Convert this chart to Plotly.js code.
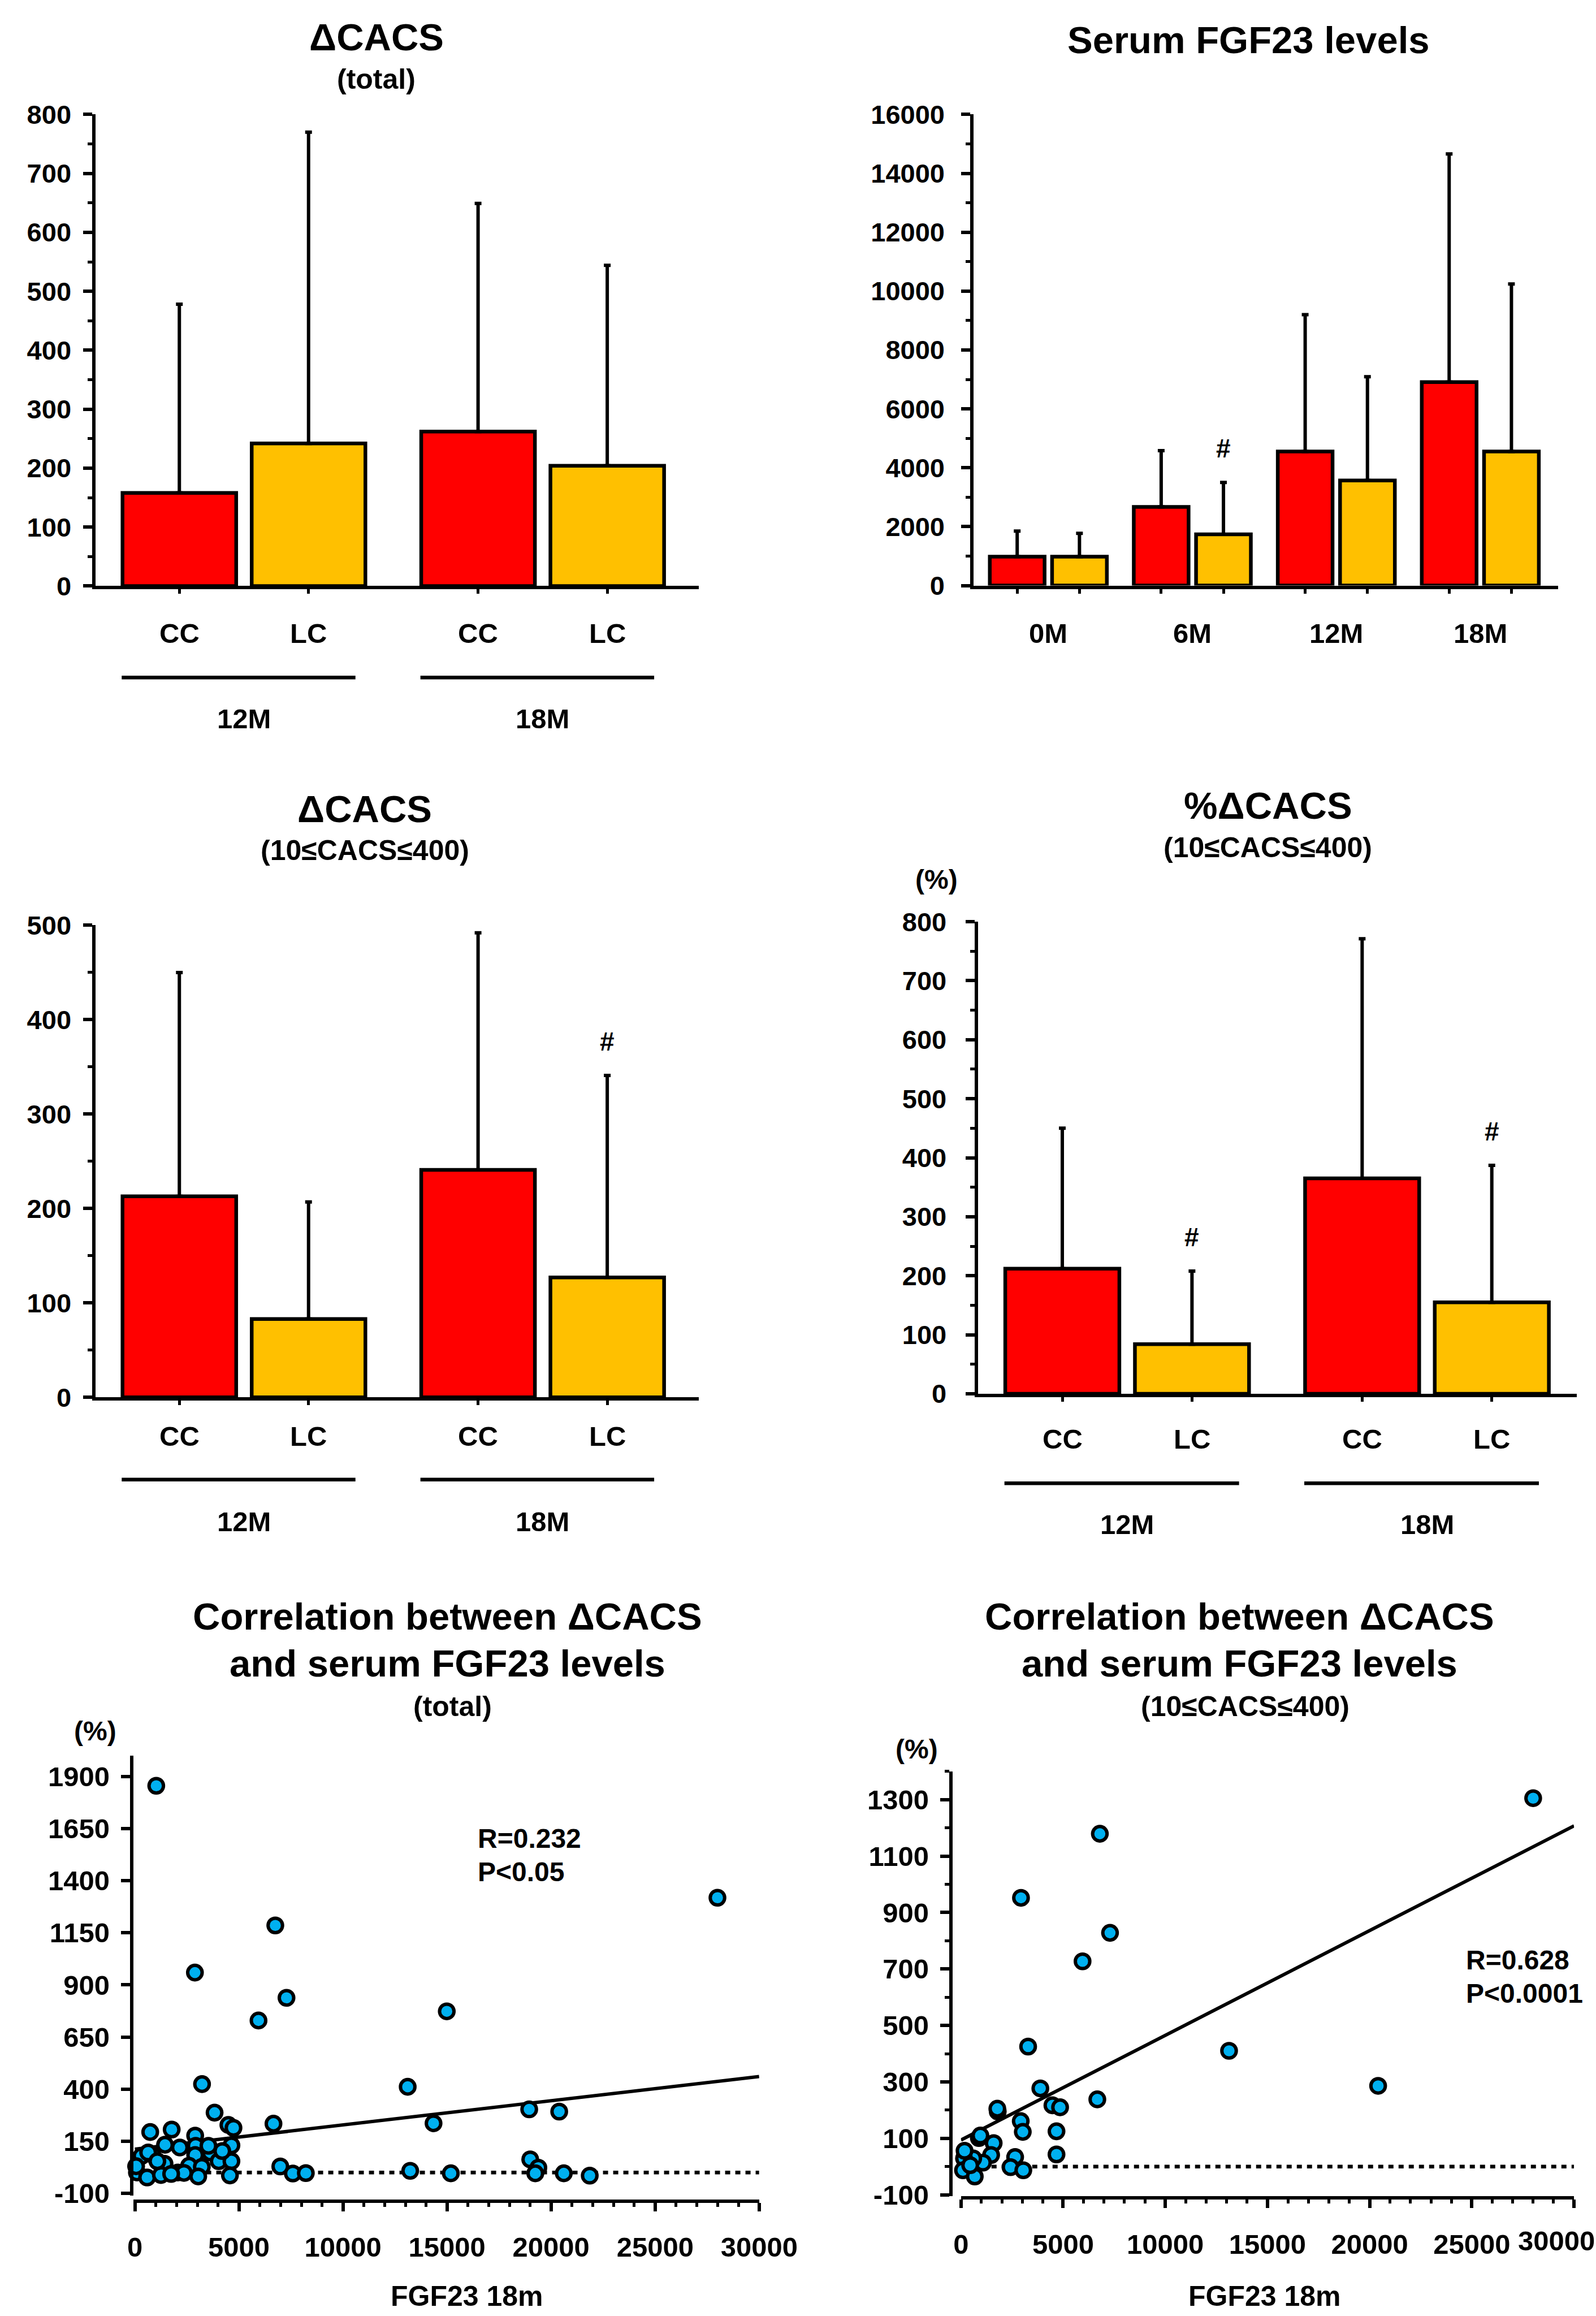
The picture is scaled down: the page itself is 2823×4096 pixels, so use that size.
<!DOCTYPE html>
<html><head><meta charset="utf-8">
<script src="https://cdn.plot.ly/plotly-3.0.1.min.js"></script>
<style>html,body{margin:0;padding:0;background:#fff}#chart{width:2823px;height:4096px}</style>
</head><body><div id="chart"></div>
<script>
// ---------------- DATA ----------------
const cacsPeriods = ['12M', '18M'];
const groupNames = ['CC', 'LC'];

// ΔCACS (total)
const totalCC = [158, 262];
const totalCCsd = [320, 387];
const totalLC = [242, 204];
const totalLCsd = [528, 340];
const totalLCsig = [false, false];

// Serum FGF23 levels
const fgfMonths = ['0M', '6M', '12M', '18M'];
const fgfCC = [980, 2670, 4550, 6910];
const fgfCCsd = [870, 1910, 4650, 7750];
const fgfLC = [980, 1740, 3570, 4550];
const fgfLCsd = [790, 1760, 3520, 5690];
const fgfLCsig = [false, true, false, false];

// ΔCACS (10≤CACS≤400)
const subCC = [213, 241];
const subCCsd = [237, 251];
const subLC = [83, 127];
const subLCsd = [124, 214];
const subLCsig = [false, true];

// %ΔCACS (10≤CACS≤400)
const pctCC = [212, 365];
const pctCCsd = [238, 406];
const pctLC = [84, 155];
const pctLCsd = [124, 232];
const pctLCsig = [true, true];

// Correlation (total): FGF23 18m vs %ΔCACS
const totalX = [1027, 27995, 6748, 2885, 7286, 5941, 14988, 3227, 13110, 6660, 14352, 18949, 20391, 18998, 19389, 19242, 20611, 21858, 13231, 15183, 6988, 7590, 8215,
  3830, 4493, 4738, 737, 1768, 2897, 2922, 1449, 2160, 4640, 3634, 835, 319, 2897, 4027, 4640, 1424, 2603, 3216, 98, 589, 1252, 2062, 2357, 3044, 4567, 60, 638, 1080, 1743, 3535, 4200];
const totalY = [1855, 1318, 1185, 959, 838, 729, 773, 424, 411, 234, 236, 303, 292, 63, 23, -4, -4, -15, 8, -4, 29, -5, -3,
  287, 228, 214, 194, 206, 177, 128, 133, 120, 130, 96, 86, 79, 84, 54, 54, 42, 32, 27, 0, -24, -12, 0, -2, -19, -14, 30, 96, 54, -7, 128, 103];
const totalFit = {intercept: 112, slope: 0.0116};
const totalStats = ['R=0.232', 'P<0.05'];

// Correlation (10≤CACS≤400)
const subX = [28000, 6796, 2937, 7294, 5950, 3286, 13119, 20413, 3884, 6672, 4475, 4850, 1800, 1780, 2925, 3025, 4675, 4675, 875, 950, 1600, 1475, 1075, 600, 150, 175, 100, 675, 2650, 2425, 3050, 450];
const subY = [1305, 1179, 952, 828, 727, 425, 410, 286, 277, 238, 217, 210, 195, 205, 161, 123, 125, 43, 101, 110, 83, 41, 14, 29, 29, 56, -13, -35, 34, -2, -13, 5];
const subFit = {intercept: 94, slope: 0.0371};
const subStats = ['R=0.628', 'P<0.0001'];

const fgfSpan = [0, 30000];

// ---------------- LAYOUT HELPERS ----------------
const W = 2823, H = 4096, RW = 3124, RH = 4533;
const px = v => v / RW;           // reference px -> paper x
const py = v => 1 - v / RH;       // reference px -> paper y
const FONT = '"Liberation Sans", Arial, Helvetica, sans-serif';
const RED = '#FF0000', GOLD = '#FFC000', BLUE = '#00B0F0', BLACK = '#000000';
const BARGAP = 0.135, GROUPGAP = 0.12;
const HALF = (1 - BARGAP) / 4;
const LW = 6;

const traces = [];
const annotations = [];
const shapes = [];
const layout = {
  width: W, height: H, margin: {l: 0, r: 0, t: 0, b: 0},
  paper_bgcolor: '#ffffff', plot_bgcolor: 'rgba(0,0,0,0)',
  showlegend: false, barmode: 'group', bargap: BARGAP, bargroupgap: GROUPGAP,
  font: {family: FONT, color: BLACK, weight: 'bold'},
  annotations: annotations, shapes: shapes
};

function f(size) { return {family: FONT, size: size, color: BLACK, weight: 'bold'}; }
function txt(text, x, y, size, extra) {
  annotations.push(Object.assign({text: text, x: px(x), y: py(y), xref: 'paper', yref: 'paper',
    showarrow: false, font: f(size), xanchor: 'center', yanchor: 'middle'}, extra || {}));
}
function tickList(start, stop, step) {
  const out = [];
  for (let v = start; v <= stop + 1e-9; v += step) out.push(v);
  return out;
}

function yAxis(c, anchor) {
  const t0 = c.tick0 !== undefined ? c.tick0 : 0;
  const vals = tickList(t0, c.yrange[1], c.dtick);
  const a = {
    domain: [py(c.ydom[0]), py(c.ydom[1])], range: c.yrange, anchor: anchor,
    tickmode: 'array', tickvals: vals, ticktext: vals.map(v => String(v)),
    ticks: 'outside', ticklen: 16, tickwidth: LW, tickcolor: BLACK,
    showline: true, linewidth: LW, linecolor: BLACK, showgrid: false, zeroline: false,
    tickfont: f(c.tickSize || 47), ticklabelstandoff: c.standoff || 8, ticklabeloverflow: 'allow', fixedrange: true
  };
  if (c.minor) a.minor = {tickmode: 'linear', dtick: c.minor, tick0: t0, ticks: 'outside', ticklen: 8, tickwidth: 5, tickcolor: BLACK, showgrid: false};
  return a;
}

function barPanel(c) {
  const s = c.n === 1 ? '' : String(c.n);
  const xa = 'x' + s, ya = 'y' + s;
  const idx = c.cats.map((_, i) => i);
  const zeros = idx.map(() => 0);
  const bar = (vals, sd, col) => ({
    type: 'bar', x: idx, y: vals, xaxis: xa, yaxis: ya,
    marker: {color: col, line: {color: BLACK, width: 6.5}},
    error_y: {type: 'data', array: sd, arrayminus: zeros, symmetric: false, color: BLACK, thickness: 6, width: 6},
    showlegend: false, hoverinfo: 'skip'
  });
  traces.push(bar(c.cc, c.ccsd, RED), bar(c.lc, c.lcsd, GOLD));
  const centers = [];
  idx.forEach(i => { centers.push(i - HALF, i + HALF); });
  layout['xaxis' + s] = {
    domain: [px(c.xdom[0]), px(c.xdom[1])], range: c.xrange, anchor: ya,
    tickmode: 'array', tickvals: centers, ticktext: centers.map(() => ''), showticklabels: false,
    ticks: 'outside', ticklen: 8, tickwidth: 5, tickcolor: BLACK,
    showline: true, linewidth: LW, linecolor: BLACK, showgrid: false, zeroline: false, fixedrange: true
  };
  layout['yaxis' + s] = yAxis(c, xa);
  // significance marks
  idx.forEach(i => {
    if (c.sig[i]) annotations.push({xref: xa, yref: ya, x: i + HALF, y: c.lc[i] + c.lcsd[i], yshift: 60,
      text: '#', showarrow: false, font: f(46), xanchor: 'center', yanchor: 'middle'});
  });
  if (c.subLabels) {
    idx.forEach(i => {
      groupNames.forEach((g, j) => {
        annotations.push({xref: xa, yref: 'paper', x: i + (j === 0 ? -HALF : HALF), y: py(c.subY), text: g,
          showarrow: false, font: f(49), xanchor: 'center', yanchor: 'middle'});
      });
      shapes.push({type: 'line', xref: xa, yref: 'paper', x0: i - HALF - 0.193, x1: i + HALF + 0.157,
        y0: py(c.lineY), y1: py(c.lineY), line: {color: BLACK, width: 6.5}});
      annotations.push({xref: xa, yref: 'paper', x: i, y: py(c.groupY), text: c.cats[i],
        showarrow: false, font: f(49), xanchor: 'center', yanchor: 'middle'});
    });
  } else {
    idx.forEach(i => {
      annotations.push({xref: xa, yref: 'paper', x: i, y: py(c.groupY), text: c.cats[i],
        showarrow: false, font: f(49), xanchor: 'center', yanchor: 'middle'});
    });
  }
}

// ---------------- BAR PANELS ----------------
barPanel({n: 1, cats: cacsPeriods, cc: totalCC, ccsd: totalCCsd, lc: totalLC, lcsd: totalLCsd, sig: totalLCsig,
  xdom: [187.5, 1368], xrange: [-0.496, 1.523], ydom: [1147, 224], yrange: [0, 800], dtick: 100, minor: 50,
  subLabels: true, subY: 1239, lineY: 1326, groupY: 1407, standoff: 12});
txt('ΔCACS', 737, 72, 67);
txt('(total)', 737, 155, 50);

barPanel({n: 2, cats: fgfMonths, cc: fgfCC, ccsd: fgfCCsd, lc: fgfLC, lcsd: fgfLCsd, sig: fgfLCsig,
  xdom: [1906, 3050], xrange: [-0.518, 3.541], ydom: [1146, 224], yrange: [0, 16000], dtick: 2000, minor: 1000,
  subLabels: false, groupY: 1240, standoff: 20});
txt('Serum FGF23 levels', 2444, 78, 67);

barPanel({n: 3, cats: cacsPeriods, cc: subCC, ccsd: subCCsd, lc: subLC, lcsd: subLCsd, sig: subLCsig,
  xdom: [187.5, 1368], xrange: [-0.496, 1.523], ydom: [2735, 1811], yrange: [0, 500], dtick: 100, minor: 50,
  subLabels: true, subY: 2811, lineY: 2896, groupY: 2978, standoff: 12});
txt('ΔCACS', 714, 1583, 67);
txt('(10≤CACS≤400)', 714, 1665, 50);

barPanel({n: 4, cats: cacsPeriods, cc: pctCC, ccsd: pctCCsd, lc: pctLC, lcsd: pctLCsd, sig: pctLCsig,
  xdom: [1914, 3086], xrange: [-0.498, 1.499], ydom: [2728, 1804], yrange: [0, 800], dtick: 100, minor: 50,
  subLabels: true, subY: 2817, lineY: 2903, groupY: 2984, standoff: 24});
txt('%ΔCACS', 2482, 1577, 67);
txt('(10≤CACS≤400)', 2482, 1659, 50);
txt('(%)', 1833, 1721, 48);

// ---------------- SCATTER PANELS ----------------
function scatterPanel(c) {
  const s = String(c.n);
  const xa = 'x' + s, ya = 'y' + s;
  traces.push({type: 'scatter', mode: 'lines', x: fgfSpan, y: fgfSpan.map(() => 0), xaxis: xa, yaxis: ya,
    line: {color: BLACK, width: 6.5, dash: '9px,9px'}, hoverinfo: 'skip', showlegend: false});
  traces.push({type: 'scatter', mode: 'lines', x: fgfSpan, y: fgfSpan.map(v => c.fit.intercept + c.fit.slope * v),
    xaxis: xa, yaxis: ya, line: {color: BLACK, width: 6}, hoverinfo: 'skip', showlegend: false, cliponaxis: false});
  traces.push({type: 'scatter', mode: 'markers', x: c.x, y: c.y, xaxis: xa, yaxis: ya, cliponaxis: false,
    marker: {size: 25.6, color: BLUE, line: {color: BLACK, width: 6}}, hoverinfo: 'skip', showlegend: false});
  const xvals = tickList(fgfSpan[0], fgfSpan[1], 5000);
  const lastIdx = xvals.length - 1;
  layout['xaxis' + s] = {
    domain: [px(c.xdom[0]), px(c.xdom[1])], range: c.xrange, anchor: 'free', position: py(c.xpos),
    tickmode: 'array', tickvals: xvals,
    ticktext: xvals.map((v, i) => (c.edgeLabel && i === lastIdx) ? '' : String(v)),
    ticks: 'outside', ticklen: 15, tickwidth: LW, tickcolor: BLACK,
    minor: {tickmode: 'linear', dtick: 1000, tick0: 0, ticks: 'outside', ticklen: 7, tickwidth: 5, tickcolor: BLACK, showgrid: false},
    showline: true, linewidth: LW, linecolor: BLACK, showgrid: false, zeroline: false,
    tickfont: f(49), ticklabelstandoff: 22, ticklabeloverflow: 'allow', fixedrange: true
  };
  if (c.edgeLabel) {
    // last tick label would run past the page edge: keep it whole, flush with the right edge
    annotations.push({text: String(xvals[lastIdx]), x: 1, y: py(c.edgeLabel), xref: 'paper', yref: 'paper',
      showarrow: false, font: f(49), xanchor: 'right', yanchor: 'middle'});
  }
  const ya_ = yAxis(c, c.yanchorFree ? 'free' : xa);
  if (c.yanchorFree) ya_.position = px(c.ypos);
  layout['yaxis' + s] = ya_;
}

scatterPanel({n: 5, x: totalX, y: totalY, fit: totalFit,
  xdom: [261, 1486], xrange: [-74, 30000], xpos: 4308,
  ydom: [4297, 3436], yrange: [-110, 2000], tick0: -100, dtick: 250, tickSize: 49, standoff: 10});
txt('Correlation between ΔCACS', 876, 3164, 67);
txt('and serum FGF23 levels', 876, 3255, 67);
txt('(total)', 886, 3340, 50);
txt('(%)', 186, 3388, 48);
txt(totalStats[0], 933, 3598, 48, {xanchor: 'left'});
txt(totalStats[1], 933, 3664, 48, {xanchor: 'left'});
txt('FGF23 18m', 914, 4494, 50);

scatterPanel({n: 6, x: subX, y: subY, fit: subFit,
  xdom: [1881, 3081], xrange: [0, 30000], xpos: 4302,
  ydom: [4298, 3467], yrange: [-104, 1400], tick0: -100, dtick: 200, minor: 100, tickSize: 49, standoff: 10,
  yanchorFree: true, ypos: 1861, edgeLabel: 4386});
txt('Correlation between ΔCACS', 2426, 3164, 67);
txt('and serum FGF23 levels', 2426, 3255, 67);
txt('(10≤CACS≤400)', 2437, 3340, 50);
txt('(%)', 1794, 3424, 48);
txt(subStats[0], 2867, 3836, 48, {xanchor: 'left'});
txt(subStats[1], 2867, 3902, 48, {xanchor: 'left'});
txt('FGF23 18m', 2476, 4494, 50);

Plotly.newPlot('chart', traces, layout, {staticPlot: true, displayModeBar: false});
</script>
</body></html>
